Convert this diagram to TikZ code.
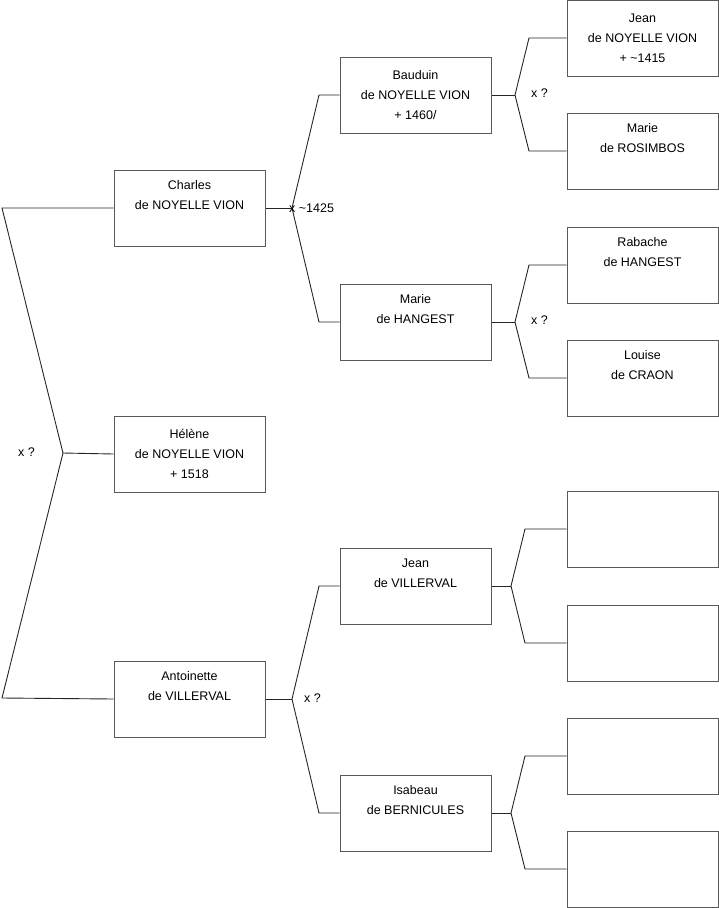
\documentclass[tikz,border=0pt]{standalone}
\usepackage{fontspec}
\setmainfont{Liberation Sans}
\begin{document}
\begin{tikzpicture}[x=1pt,y=-1pt,
  person/.style={draw=black!65, line width=1pt, minimum width=151pt, minimum height=76pt, inner sep=0pt, align=center, font=\fontsize{12.5}{20}\selectfont, fill=white},
  link/.style={draw=black!85, line width=0.9pt},
  tag/.style={font=\fontsize{12.5}{15}\selectfont, inner sep=0pt, anchor=west}]
\useasboundingbox (0,0) rectangle (719,908);
% generation 1
\node[person] (charles) at (189.5,208) {Charles\\de NOYELLE VION\\\strut};
\node[person] (helene) at (189.5,454) {Hélène\\de NOYELLE VION\\+ 1518};
\node[person] (antoinette) at (189.5,699) {Antoinette\\de VILLERVAL\\\strut};
% generation 2
\node[person] (bauduin) at (415.5,95) {Bauduin\\de NOYELLE VION\\+ 1460/};
\node[person] (marieh) at (415.5,322) {Marie\\de HANGEST\\\strut};
\node[person] (jeanv) at (415.5,586) {Jean\\de VILLERVAL\\\strut};
\node[person] (isabeau) at (415.5,813) {Isabeau\\de BERNICULES\\\strut};
% generation 3
\node[person] (jeann) at (642.5,38) {Jean\\de NOYELLE VION\\+ \textasciitilde1415};
\node[person] (marier) at (642.5,151) {Marie\\de ROSIMBOS\\\strut};
\node[person] (rabache) at (642.5,265) {Rabache\\de HANGEST\\\strut};
\node[person] (louise) at (642.5,378) {Louise\\de CRAON\\\strut};
\node[person] (e1) at (642.5,529) {};
\node[person] (e2) at (642.5,643) {};
\node[person] (e3) at (642.5,756) {};
\node[person] (e4) at (642.5,869) {};
% junction coordinates
\coordinate (L1) at (2,208);
\coordinate (L2) at (63,453);
\coordinate (L3) at (2,698);
\coordinate (C0) at (292,208);
\coordinate (C1) at (319,95);
\coordinate (C2) at (319,322);
\coordinate (A0) at (292,699);
\coordinate (A1) at (319,586);
\coordinate (A2) at (319,813);
\coordinate (B0) at (515,95);
\coordinate (B1) at (529,38);
\coordinate (B2) at (529,151);
\coordinate (M0) at (515,322);
\coordinate (M1) at (529,265);
\coordinate (M2) at (529,378);
\coordinate (V0) at (511,586);
\coordinate (V1) at (525,529);
\coordinate (V2) at (525,643);
\coordinate (I0) at (511,813);
\coordinate (I1) at (525,756);
\coordinate (I2) at (525,869);
% connectors
\draw[link] (charles.west) -- (L1) -- (L2) -- (L3) -- (antoinette.west);
\draw[link] (L2) -- (helene.west);
\draw[link] (charles.east) -- (C0);
\draw[link] (bauduin.west) -- (C1) -- (C0) -- (C2) -- (marieh.west);
\draw[link] (antoinette.east) -- (A0);
\draw[link] (jeanv.west) -- (A1) -- (A0) -- (A2) -- (isabeau.west);
\draw[link] (bauduin.east) -- (B0);
\draw[link] (jeann.west) -- (B1) -- (B0) -- (B2) -- (marier.west);
\draw[link] (marieh.east) -- (M0);
\draw[link] (rabache.west) -- (M1) -- (M0) -- (M2) -- (louise.west);
\draw[link] (jeanv.east) -- (V0);
\draw[link] (e1.west) -- (V1) -- (V0) -- (V2) -- (e2.west);
\draw[link] (isabeau.east) -- (I0);
\draw[link] (e3.west) -- (I1) -- (I0) -- (I2) -- (e4.west);
% marriage labels
\node[tag] (t0) at (18,452) {x ?};
\node[tag] (t1) at (289,208) {x \textasciitilde1425};
\node[tag] (t2) at (304,698) {x ?};
\node[tag] (t3) at (531,93) {x ?};
\node[tag] (t4) at (531,320) {x ?};
\end{tikzpicture}
\end{document}
